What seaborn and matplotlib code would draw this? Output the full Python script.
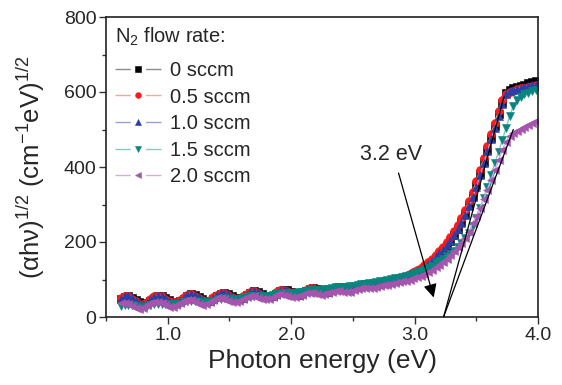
import matplotlib
matplotlib.use("Agg")
import matplotlib.pyplot as plt
import seaborn as sns
import numpy as np

# ---------------- data ----------------
energy = [0.62, 0.65, 0.68, 0.71, 0.74, 0.77, 0.80, 0.83, 0.86, 0.89,
          0.92, 0.95, 0.98, 1.01, 1.04, 1.07, 1.10, 1.13, 1.16, 1.19,
          1.22, 1.25, 1.28, 1.31, 1.34, 1.37, 1.40, 1.43, 1.46, 1.49,
          1.52, 1.55, 1.58, 1.61, 1.64, 1.67, 1.70, 1.73, 1.76, 1.79,
          1.82, 1.85, 1.88, 1.91, 1.94, 1.97, 2.00, 2.03, 2.06, 2.09,
          2.12, 2.15, 2.18, 2.21, 2.24, 2.27, 2.30, 2.33, 2.36, 2.39,
          2.42, 2.45, 2.48, 2.51, 2.54, 2.57, 2.60, 2.63, 2.66, 2.69,
          2.72, 2.75, 2.78, 2.81, 2.84, 2.87, 2.90, 2.93, 2.96, 2.99,
          3.02, 3.05, 3.08, 3.11, 3.14, 3.17, 3.20, 3.23, 3.26, 3.29,
          3.32, 3.35, 3.38, 3.41, 3.44, 3.47, 3.50, 3.53, 3.56, 3.59,
          3.62, 3.65, 3.68, 3.71, 3.74, 3.77, 3.80, 3.83, 3.86, 3.89,
          3.92, 3.95, 3.98]

s0_0 = [48, 54, 56, 52, 46, 39, 35, 37, 43, 51,
        56, 57, 52, 46, 40, 38, 42, 49, 57, 61,
        59, 54, 48, 43, 44, 49, 56, 62, 65, 62,
        56, 51, 48, 51, 58, 65, 69, 68, 62, 56,
        53, 56, 62, 69, 73, 71, 66, 62, 60, 63,
        69, 75, 77, 75, 70, 67, 68, 72, 78, 81,
        80, 78, 75, 77, 80, 84, 87, 87, 86, 86,
        87, 90, 92, 94, 96, 99, 102, 106, 110, 114,
        119, 125, 132, 140, 148, 157, 167, 178, 190, 203,
        218, 235, 254, 275, 298, 323, 351, 381, 413, 445,
        477, 509, 541, 572, 598, 606, 610, 614, 617, 620,
        623, 626, 629]

s0_5 = [51, 56, 55, 49, 42, 36, 35, 40, 48, 55,
        57, 55, 49, 43, 39, 40, 46, 54, 60, 61,
        57, 51, 45, 42, 46, 53, 60, 64, 64, 59,
        53, 49, 49, 55, 62, 68, 70, 65, 59, 54,
        54, 59, 66, 72, 73, 69, 63, 60, 61, 66,
        72, 77, 77, 73, 68, 67, 70, 75, 80, 81,
        79, 76, 75, 78, 82, 86, 87, 87, 86, 86,
        89, 92, 94, 96, 99, 102, 106, 110, 114, 119,
        125, 131, 139, 147, 156, 166, 176, 187, 199, 213,
        229, 246, 265, 286, 309, 334, 362, 392, 423, 455,
        487, 518, 550, 580, 596, 601, 604, 607, 610, 612,
        614, 616, 618]

s1_0 = [49, 55, 56, 51, 44, 37, 35, 37, 45, 53,
        57, 57, 51, 44, 39, 38, 43, 51, 59, 61,
        59, 53, 46, 42, 44, 50, 58, 64, 65, 61,
        54, 49, 48, 52, 59, 66, 70, 67, 61, 55,
        53, 56, 64, 70, 73, 71, 65, 61, 60, 64,
        70, 76, 77, 74, 69, 67, 68, 73, 79, 81,
        80, 77, 75, 77, 81, 85, 87, 87, 86, 86,
        88, 90, 93, 94, 97, 100, 103, 107, 111, 116,
        121, 127, 134, 142, 150, 159, 170, 180, 191, 204,
        218, 234, 252, 272, 295, 320, 348, 378, 410, 442,
        474, 505, 537, 568, 595, 602, 606, 609, 612, 614,
        616, 618, 620]

s1_5 = [29, 31, 32, 31, 29, 28, 28, 29, 31, 34,
        36, 36, 35, 34, 33, 34, 36, 39, 42, 43,
        43, 41, 40, 40, 41, 44, 47, 49, 50, 49,
        48, 48, 49, 51, 54, 56, 57, 57, 56, 56,
        57, 59, 62, 64, 65, 65, 65, 65, 66, 68,
        70, 72, 73, 73, 73, 74, 75, 77, 79, 80,
        81, 81, 82, 84, 86, 87, 89, 90, 91, 93,
        95, 97, 99, 101, 103, 105, 108, 110, 113, 116,
        119, 123, 127, 132, 137, 143, 150, 156, 162, 169,
        177, 186, 197, 210, 225, 243, 265, 290, 318, 348,
        380, 410, 440, 471, 503, 535, 563, 580, 588, 594,
        598, 602, 606]

s2_0 = [37, 38, 35, 29, 24, 22, 24, 31, 37, 41,
        41, 37, 32, 28, 28, 32, 38, 44, 46, 45,
        40, 35, 33, 34, 39, 45, 50, 51, 48, 43,
        40, 39, 43, 49, 54, 56, 55, 51, 48, 47,
        49, 54, 59, 61, 60, 56, 53, 53, 56, 60,
        64, 65, 63, 61, 59, 61, 64, 68, 70, 70,
        68, 67, 68, 72, 75, 77, 77, 77, 78, 80,
        83, 85, 86, 88, 90, 93, 95, 97, 100, 103,
        106, 110, 115, 120, 126, 133, 140, 148, 156, 165,
        175, 186, 198, 211, 228, 250, 270, 292, 315, 340,
        366, 393, 420, 446, 468, 483, 491, 497, 502, 507,
        512, 517, 522]

series_labels = ["0 sccm", "0.5 sccm", "1.0 sccm", "1.5 sccm", "2.0 sccm"]
series_values = [s0_0, s0_5, s1_0, s1_5, s2_0]

x_ticks = [1.0, 2.0, 3.0, 4.0]
y_ticks = [0, 200, 400, 600, 800]

# annotation: tangent lines (extrapolation to the band gap) and arrow
tangent_1 = ([3.235, 3.725], [0, 587])
tangent_2 = ([3.235, 3.80], [0, 500])
gap_label = "3.2 eV"

# ---------------- styling ----------------
sns.set_style("ticks")
plt.rcParams["font.family"] = ["Liberation Sans", "DejaVu Sans"]
plt.rcParams["mathtext.fontset"] = "custom"
plt.rcParams["mathtext.rm"] = "Liberation Sans"
plt.rcParams["mathtext.it"] = "Liberation Sans"
plt.rcParams["mathtext.default"] = "regular"

dark_colors = ["#000000", "#ff1a1a", "#2a3fa6", "#08857f", "#a555ad"]
light_colors = ["#8c8c8c", "#f6a898", "#98a0d8", "#88c8c0", "#dcaadc"]
markers = ["s", "o", "^", "v", "<"]

fig = plt.figure(figsize=(5.62, 3.85), dpi=100)
ax = fig.add_axes([106 / 562, 1 - 317 / 385, 432 / 562, 300 / 385])

for vals, lab, dc, lc, mk in zip(series_values, series_labels,
                                 dark_colors, light_colors, markers):
    sns.lineplot(x=energy, y=vals, ax=ax, color=lc, linewidth=1.0,
                 marker=mk, markersize=5.8, markerfacecolor=dc,
                 markeredgecolor=dc, markeredgewidth=0.4,
                 label=lab, sort=False)

ax.plot(tangent_1[0], tangent_1[1], color="black", lw=0.9, zorder=5)
ax.plot(tangent_2[0], tangent_2[1], color="black", lw=0.9, zorder=5)

ax.annotate("", xy=(3.155, 52), xytext=(2.87, 384),
            arrowprops=dict(arrowstyle="-|>", color="black", lw=0.9,
                            mutation_scale=20, shrinkA=0, shrinkB=0),
            zorder=6)
ax.text(2.81, 433, gap_label, ha="center", va="center", fontsize=15.5)

ax.set_xlim(0.5, 4.0)
ax.set_ylim(0, 800)
ax.set_xticks(x_ticks)
ax.set_xticklabels([f"{t:.1f}" for t in x_ticks])
ax.set_yticks(y_ticks)
ax.set_xticks([0.5, 1.5, 2.5, 3.5], minor=True)
ax.set_yticks([100, 300, 500, 700], minor=True)
ax.tick_params(axis="both", which="major", direction="out", length=5,
               width=1, labelsize=14, color="#333333", pad=2)
ax.tick_params(axis="both", which="minor", direction="out", length=3,
               width=1, color="#333333")
for sp in ax.spines.values():
    sp.set_visible(True)
    sp.set_linewidth(1.2)
    sp.set_color("#222222")

ax.set_xlabel("Photon energy (eV)", fontsize=19, labelpad=4)
ax.set_ylabel(r"(αhν)$^{1/2}$ (cm$^{-1}$eV)$^{1/2}$", fontsize=18.5,
              labelpad=12)

leg = ax.legend(title="N$_2$ flow rate:", loc="upper left",
                bbox_to_anchor=(0.0, 1.0), frameon=False, fontsize=14.5,
                title_fontsize=14.5, handlelength=2.3, handletextpad=0.45,
                labelspacing=0.38, borderaxespad=0.15, borderpad=0.3,
                markerscale=0.72)
leg._legend_box.align = "left"
leg._legend_box.sep = 9
for hl in leg.get_lines():
    hl.set_dashes([11, 11, 40])

fig.savefig("out.png", dpi=100)
